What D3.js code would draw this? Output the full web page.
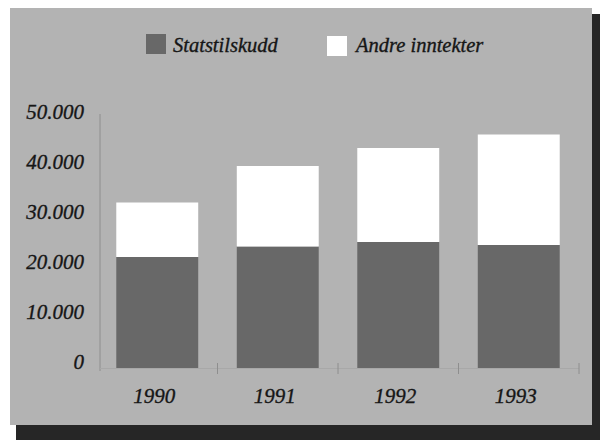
<!DOCTYPE html>
<html>
<head>
<meta charset="utf-8">
<script src="https://cdn.jsdelivr.net/npm/d3@7"></script>
<style>
  html, body { margin: 0; padding: 0; background: #ffffff; }
  svg { display: block; }
</style>
</head>
<body>
<svg id="chart" width="600" height="445"></svg>
<script>
const years = ["1990", "1991", "1992", "1993"];
const statstilskudd = [22200, 24300, 25200, 24600];
const andreInntekter = [10900, 16100, 18800, 22100];
const seriesNames = ["Statstilskudd", "Andre inntekter"];
const yTicks = [0, 10000, 20000, 30000, 40000, 50000];
const yTickLabels = ["0", "10.000", "20.000", "30.000", "40.000", "50.000"];

const colors = { "Statstilskudd": "#686868", "Andre inntekter": "#ffffff" };
const FONT = "'Liberation Serif', 'Times New Roman', Times, 'DejaVu Serif', serif";

const svg = d3.select("#chart");

// shadow + panel
svg.append("rect").attr("x", 16).attr("y", 14).attr("width", 584).attr("height", 426).attr("fill", "#262626");
svg.append("rect").attr("x", 10).attr("y", 8).attr("width", 582).attr("height", 417).attr("fill", "#b3b3b3");

const x = d3.scaleBand().domain(years).range([97, 579]).paddingInner(0.32).paddingOuter(0.16);
const y = d3.scaleLinear().domain([0, 50000]).range([368, 118]);

const table = years.map((yr, i) => ({ year: yr, "Statstilskudd": statstilskudd[i], "Andre inntekter": andreInntekter[i] }));
const stacked = d3.stack().keys(seriesNames)(table);

function styleText(sel, size) {
  return sel.style("font-family", FONT).style("font-style", "italic")
    .style("font-size", size + "px").style("fill", "#161616")
    .style("stroke", "#161616").style("stroke-width", "0.35px");
}

// y axis line
svg.append("line").attr("x1", 100).attr("x2", 100).attr("y1", 114).attr("y2", 371)
  .attr("stroke", "#8e8e8e").attr("stroke-width", 1);

// x axis faint line + ticks at band boundaries
svg.append("line").attr("x1", 100).attr("x2", 579).attr("y1", 368.5).attr("y2", 368.5)
  .attr("stroke", "#a8a8a8").attr("stroke-width", 1);
const boundaries = years.map((d, i) => x.range()[0] + x.step() * (i + 1));
svg.selectAll(".xtick").data(boundaries).enter().append("line")
  .attr("x1", d => d).attr("x2", d => d).attr("y1", 363).attr("y2", 374)
  .attr("stroke", "#8e8e8e").attr("stroke-width", 1);

// y tick labels
styleText(svg.selectAll(".ylab").data(yTicks).enter().append("text")
  .attr("x", 84).attr("y", d => y(d) + 1)
  .attr("text-anchor", "end")
  .text((d, i) => yTickLabels[i]), 21);

// bars
svg.selectAll(".series").data(stacked).enter().append("g")
  .attr("fill", d => colors[d.key])
  .selectAll("rect").data(d => d).enter().append("rect")
  .attr("x", d => x(d.data.year))
  .attr("width", x.bandwidth())
  .attr("y", d => y(d[1]))
  .attr("height", d => y(d[0]) - y(d[1]));

// x labels
styleText(svg.selectAll(".xlab").data(years).enter().append("text")
  .attr("x", d => x(d) + x.bandwidth() / 2 - 3)
  .attr("y", 403)
  .attr("text-anchor", "middle")
  .text(d => d), 21);

// legend
const legendPos = [{ sx: 146, sy: 34, tx: 173 }, { sx: 327, sy: 36, tx: 356 }];
seriesNames.forEach((name, i) => {
  const p = legendPos[i];
  svg.append("rect").attr("x", p.sx).attr("y", p.sy).attr("width", 20).attr("height", 20).attr("fill", colors[name]);
  styleText(svg.append("text").attr("x", p.tx).attr("y", 52).text(name), 20.5);
});
</script>
</body>
</html>
